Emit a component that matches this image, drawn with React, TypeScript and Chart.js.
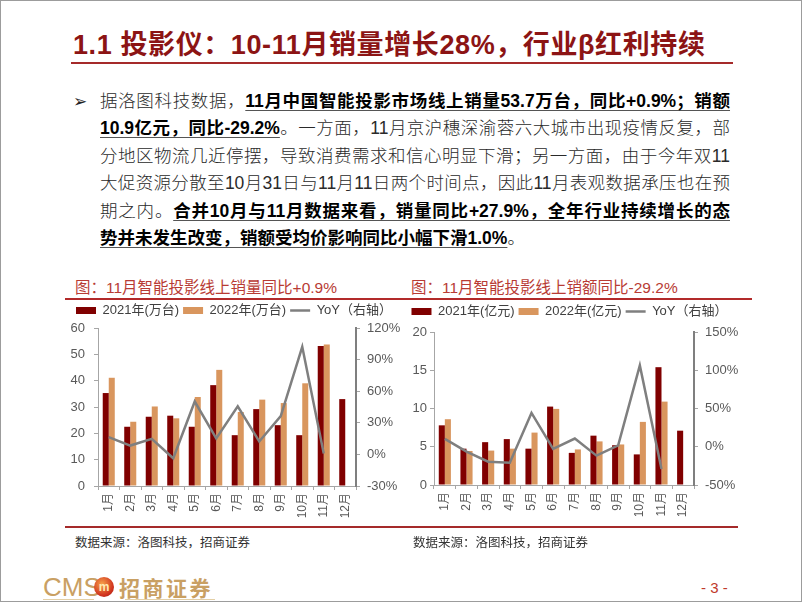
import React, { useEffect, useRef } from 'react';
import { Chart, registerables, layouts } from 'chart.js';

Chart.register(...registerables);

// ---------- data ----------
const months = ['1月', '2月', '3月', '4月', '5月', '6月', '7月', '8月', '9月', '10月', '11月', '12月'];

const sales2021 = [35.3, 22.5, 26.3, 26.7, 22.5, 38.3, 19.3, 29.2, 23.1, 19.3, 53.2, 33.0];
const sales2022 = [41.1, 24.4, 30.2, 25.7, 33.8, 44.1, 28.1, 32.8, 31.5, 39.0, 53.7, null];
const salesYoY = [16.4, 8.4, 14.8, -3.7, 50.2, 15.1, 45.6, 12.3, 36.4, 102.1, 0.9, null];

const revenue2021 = [7.8, 4.75, 5.6, 6.0, 4.75, 10.25, 4.2, 6.45, 5.2, 4.0, 15.4, 7.1];
const revenue2022 = [8.6, 4.45, 4.5, 4.75, 6.85, 9.95, 4.65, 5.7, 5.3, 8.25, 10.9, null];
const revenueYoY = [10.3, -6.3, -19.6, -20.8, 44.2, -2.9, 10.7, -11.6, 1.9, 106.3, -29.2, null];

const salesLabels = ['2021年(万台)', '2022年(万台)', 'YoY（右轴）'];
const revenueLabels = ['2021年(亿元)', '2022年(亿元)', 'YoY（右轴）'];

// ---------- styles ----------
const FONT = "'Liberation Sans', Arial, 'Noto Sans CJK SC', sans-serif";
const C21 = '#800000';
const C22 = '#D9965E';
const LINE = '#7F7F7F';
const AX = '#A6A6A6';
const TXT = '#595959';

function spacerPlugin(h: number) {
  return {
    id: 'spacer',
    beforeInit(chart: any) {
      const box: any = {
        position: 'top',
        weight: 500,
        fullSize: true,
        options: {},
        left: 0, top: 0, right: 0, bottom: 0, width: 0, height: h,
        isHorizontal() { return true; },
        update(maxWidth: number) { box.width = maxWidth; box.height = h; },
        draw() {},
      };
      layouts.addBox(chart, box);
    },
  };
}

type ComboProps = {
  left: number; top: number; width: number; height: number;
  labels: string[]; d21: (number | null)[]; d22: (number | null)[]; yoy: (number | null)[];
  yMax: number; yStep: number; y1Min: number; y1Max: number; y1Step: number;
  leftW: number; rightW: number; xH: number; spacer: number; leftPad: number;
};

function ComboChart(p: ComboProps) {
  const ref = useRef<HTMLCanvasElement>(null);
  useEffect(() => {
    const tickFont = { size: 13, family: FONT };
    const chart = new Chart(ref.current as HTMLCanvasElement, {
      type: 'bar',
      data: {
        labels: months,
        datasets: [
          { type: 'bar', label: p.labels[0], data: p.d21 as any, backgroundColor: C21, yAxisID: 'y', order: 1, pointStyle: 'rect', categoryPercentage: 0.56, barPercentage: 1 } as any,
          { type: 'bar', label: p.labels[1], data: p.d22 as any, backgroundColor: C22, yAxisID: 'y', order: 1, pointStyle: 'rect', categoryPercentage: 0.56, barPercentage: 1 } as any,
          { type: 'line', label: p.labels[2], data: p.yoy as any, borderColor: LINE, backgroundColor: LINE, borderWidth: 2.5, pointRadius: 0, pointStyle: 'line', yAxisID: 'y1', order: 0, tension: 0, spanGaps: false } as any,
        ],
      },
      options: {
        responsive: false,
        animation: false,
        devicePixelRatio: 1,
        layout: { padding: 0 },
        plugins: {
          legend: {
            position: 'top',
            labels: {
              usePointStyle: true, pointStyleWidth: 20, boxHeight: 7, padding: 4, color: '#404040',
              font: { size: 13, family: FONT },
              sort: (a: any, b: any) => a.datasetIndex - b.datasetIndex,
            },
          },
          tooltip: { enabled: false },
        },
        scales: {
          x: {
            offset: true,
            grid: { display: true, drawOnChartArea: false, tickLength: 4, color: AX, offset: true },
            border: { color: AX },
            ticks: { maxRotation: 90, minRotation: 90, color: TXT, font: { size: 12, family: FONT }, padding: 3 },
            afterFit: (s: any) => { s.height = p.xH; },
          },
          y: {
            position: 'left', min: 0, max: p.yMax,
            ticks: { stepSize: p.yStep, color: TXT, font: tickFont, padding: p.leftPad },
            grid: { drawOnChartArea: false, tickLength: 4, color: AX },
            border: { color: AX },
            afterFit: (s: any) => { s.width = p.leftW; },
          },
          y1: {
            position: 'right', min: p.y1Min, max: p.y1Max,
            ticks: { stepSize: p.y1Step, color: TXT, font: tickFont, padding: 7, callback: (v: any) => v + '%' },
            grid: { drawOnChartArea: false, tickLength: 4, color: AX },
            border: { color: '#7F7F7F', width: 2 },
            afterFit: (s: any) => { s.width = p.rightW; },
          },
        },
      } as any,
      plugins: [spacerPlugin(p.spacer) as any],
    });
    return () => chart.destroy();
  }, []);
  return (
    <canvas
      ref={ref}
      width={p.width}
      height={p.height}
      style={{ position: 'absolute', left: p.left, top: p.top, width: p.width, height: p.height }}
    />
  );
}

const B = (t: string) => (
  <span style={{ fontWeight: 700, color: '#000', textDecoration: 'underline', textUnderlineOffset: '3px', textDecorationColor: '#555' }}>{t}</span>
);

export default function App() {
  const lineStyle = (last = false): React.CSSProperties => ({
    height: 27.4, lineHeight: '27.4px', whiteSpace: 'nowrap',
    textAlign: last ? 'left' : 'justify', textAlignLast: last ? 'left' : 'justify',
  } as any);
  return (
    <div style={{ position: 'fixed', left: 0, top: 0, width: 802, height: 602, background: '#fff', border: '1px solid #9c9c9c', boxSizing: 'border-box', overflow: 'hidden', fontFamily: FONT }}>
      {/* title */}
      <div style={{ position: 'absolute', left: 72, top: 28, height: 32, lineHeight: '32px', fontSize: 27, letterSpacing: '0.6px', fontWeight: 700, color: '#8C1414', whiteSpace: 'nowrap' }}>
        1.1 投影仪：10-11月销量增长28%，行业β红利持续
      </div>
      <div style={{ position: 'absolute', left: 70, top: 61, width: 662, height: 2, background: '#A52A2A' }} />

      {/* body text */}
      <div style={{ position: 'absolute', left: 72, top: 87, lineHeight: '27.4px', fontSize: 17, color: '#222', fontFamily: "'DejaVu Sans', sans-serif" }}>➢</div>
      <div style={{ position: 'absolute', left: 99, top: 87, width: 630, fontSize: 17.5, fontWeight: 300, color: '#2a2a2a', fontFamily: "'Liberation Sans', 'Noto Sans CJK SC', sans-serif" }}>
        <div style={lineStyle()}>据洛图科技数据，{B('11月中国智能投影市场线上销量53.7万台，同比+0.9%；销额')}</div>
        <div style={lineStyle()}>{B('10.9亿元，同比-29.2%')}。一方面，11月京沪穗深渝蓉六大城市出现疫情反复，部</div>
        <div style={lineStyle()}>分地区物流几近停摆，导致消费需求和信心明显下滑；另一方面，由于今年双11</div>
        <div style={lineStyle()}>大促资源分散至10月31日与11月11日两个时间点，因此11月表观数据承压也在预</div>
        <div style={lineStyle()}>期之内。{B('合并10月与11月数据来看，销量同比+27.9%，全年行业持续增长的态')}</div>
        <div style={lineStyle(true)}>{B('势并未发生改变，销额受均价影响同比小幅下滑1.0%')}。</div>
      </div>

      {/* chart titles */}
      <div style={{ position: 'absolute', left: 74, top: 277, height: 20, lineHeight: '20px', fontSize: 15.5, color: '#B83B34', whiteSpace: 'nowrap' }}>图：11月智能投影线上销量同比+0.9%</div>
      <div style={{ position: 'absolute', left: 410, top: 277, height: 20, lineHeight: '20px', fontSize: 15.5, color: '#B83B34', whiteSpace: 'nowrap' }}>图：11月智能投影线上销额同比-29.2%</div>
      <div style={{ position: 'absolute', left: 64, top: 297, width: 687, height: 2, background: '#B22A2A' }} />

      <ComboChart left={63} top={299} width={340} height={222}
        labels={salesLabels} d21={sales2021} d22={sales2022} yoy={salesYoY}
        yMax={60} yStep={10} y1Min={-30} y1Max={120} y1Step={30}
        leftW={34} rightW={48} xH={36} spacer={1} leftPad={9} />
      <ComboChart left={400} top={300} width={337} height={220}
        labels={revenueLabels} d21={revenue2021} d22={revenue2022} yoy={revenueYoY}
        yMax={20} yStep={5} y1Min={-50} y1Max={150} y1Step={50}
        leftW={33} rightW={44} xH={36} spacer={4} leftPad={3} />

      <div style={{ position: 'absolute', left: 64, top: 525, width: 673, height: 2, background: '#A52A2A' }} />

      {/* sources */}
      <div style={{ position: 'absolute', left: 74, top: 531, fontSize: 12.5, color: '#333', fontFamily: "'Noto Sans CJK SC', sans-serif", whiteSpace: 'nowrap' }}>数据来源：洛图科技，招商证券</div>
      <div style={{ position: 'absolute', left: 412, top: 531, fontSize: 12.5, color: '#333', fontFamily: "'Noto Sans CJK SC', sans-serif", whiteSpace: 'nowrap' }}>数据来源：洛图科技，招商证券</div>

      {/* footer */}
      <div style={{ position: 'absolute', left: 42, top: 570, fontSize: 26, color: '#C9A063', fontFamily: "'Liberation Sans Narrow', 'Liberation Sans', sans-serif", lineHeight: '32px', whiteSpace: 'nowrap' }}>CMS</div>
      <div style={{ position: 'absolute', left: 93, top: 576, width: 20, height: 20, borderRadius: '50%', background: 'radial-gradient(circle at 40% 35%, #F7A24A, #D0321E 65%, #8E1A12)', color: '#FFE9B0', fontSize: 12, fontWeight: 700, textAlign: 'center', lineHeight: '20px', fontFamily: FONT }}>m</div>
      <div style={{ position: 'absolute', left: 118, top: 571, fontSize: 21, letterSpacing: '2.5px', color: '#C9A063', fontWeight: 700, lineHeight: '30px', fontFamily: "'Noto Sans CJK SC', sans-serif", whiteSpace: 'nowrap' }}>招商证券</div>
      <div style={{ position: 'absolute', left: 42, top: 598, width: 51, height: 1, background: '#E3CFA6' }} />
      <div style={{ position: 'absolute', left: 124, top: 598, width: 90, height: 1, background: '#E3CFA6' }} />
      <div style={{ position: 'absolute', left: 700, top: 576, fontSize: 15, color: '#C0392B', lineHeight: '22px', whiteSpace: 'nowrap' }}>- 3 -</div>
    </div>
  );
}
